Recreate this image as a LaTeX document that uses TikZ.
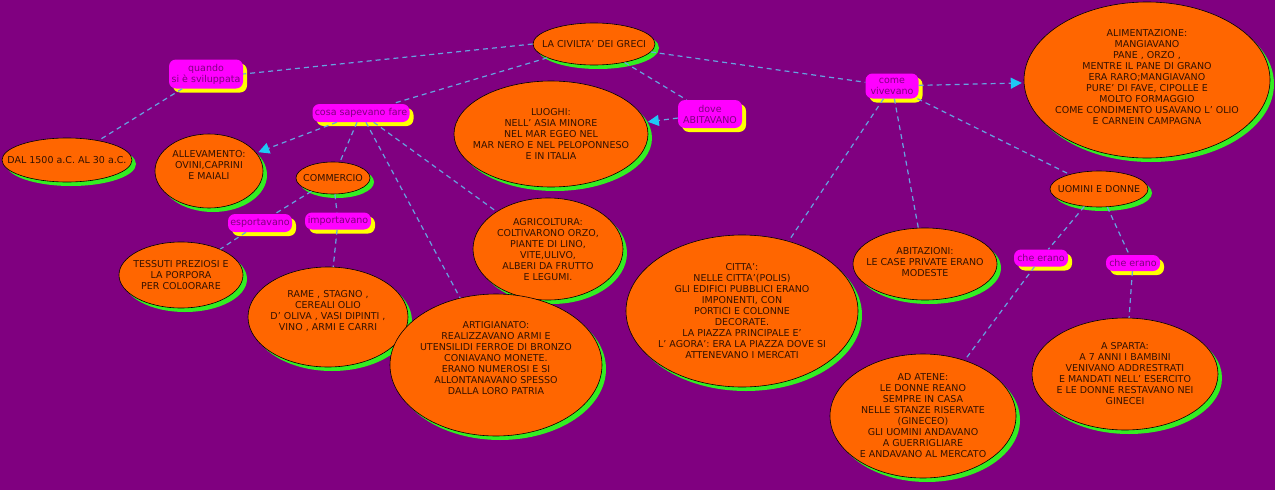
\documentclass[tikz,border=0pt]{standalone}
\usepackage{fontspec}
\setmainfont{DejaVu Sans}
\usetikzlibrary{shapes.geometric,shadows,arrows.meta}
\definecolor{bg}{HTML}{800080}
\definecolor{orng}{HTML}{FF6600}
\definecolor{grn}{HTML}{33EE22}
\definecolor{mag}{HTML}{FF00FF}
\definecolor{yel}{HTML}{FFFF00}
\definecolor{lnk}{HTML}{66A3E0}
\definecolor{cyn}{HTML}{1EC8F5}
\definecolor{txt}{HTML}{331100}
\tikzset{
  oval/.style={ellipse, draw=black, line width=0.6pt, fill=orng, inner sep=0pt,
    drop shadow={shadow xshift=4pt, shadow yshift=-4pt, fill=grn, opacity=1}},
  ovtext/.style={align=center, text=txt, inner sep=0pt, font=\fontsize{9.5}{11}\selectfont},
  lab/.style={rounded corners=7pt, fill=mag, text=bg, align=center, inner sep=1pt,
    font=\fontsize{9.5}{11}\selectfont,
    drop shadow={shadow xshift=4pt, shadow yshift=-4pt, fill=yel, opacity=1}},
  conn/.style={draw=lnk, dash pattern=on 5pt off 4pt, line width=1.2pt},
  arr/.style={conn, -{Triangle[length=11pt,width=11pt,color=cyn]}, shorten >=2pt}
}
\begin{document}
\begin{tikzpicture}[x=1pt,y=-1pt]
\fill[bg] (0,0) rectangle (1275,490);
\useasboundingbox (0,0) rectangle (1275,490);

% ellipses
\node[oval, minimum width=122pt, minimum height=42pt] (greci) at (594,44) {};
\node[ovtext] (greci-t) at (greci) {LA CIVILTA' DEI GRECI};
\node[oval, minimum width=194pt, minimum height=106pt] (luoghi) at (551,134) {};
\node[ovtext] (luoghi-t) at (luoghi) {LUOGHI:\\NELL' ASIA MINORE\\NEL MAR EGEO NEL\\MAR NERO E NEL PELOPONNESO\\E IN ITALIA};
\node[oval, minimum width=246pt, minimum height=156pt] (alim) at (1147,80) {};
\node[ovtext] (alim-t) at (1147,77) {ALIMENTAZIONE:\\MANGIAVANO\\PANE , ORZO ,\\MENTRE IL PANE DI GRANO\\ERA RARO;MANGIAVANO\\PURE' DI FAVE, CIPOLLE E\\MOLTO FORMAGGIO\\COME CONDIMENTO USAVANO L' OLIO\\E CARNEIN CAMPAGNA};
\node[oval, minimum width=98pt, minimum height=36pt] (uomini) at (1099,189) {};
\node[ovtext] (uomini-t) at (uomini) {UOMINI E DONNE};
\node[oval, minimum width=144pt, minimum height=72pt] (abit) at (925,264) {};
\node[ovtext] (abit-t) at (925,262) {ABITAZIONI:\\LE CASE PRIVATE ERANO\\MODESTE};
\node[oval, minimum width=232pt, minimum height=152pt] (citta) at (742,311) {};
\node[ovtext] (citta-t) at (citta) {CITTA':\\NELLE CITTA'(POLIS)\\GLI EDIFICI PUBBLICI ERANO\\IMPONENTI, CON\\PORTICI E COLONNE\\DECORATE.\\LA PIAZZA PRINCIPALE E'\\L' AGORA': ERA LA PIAZZA DOVE SI\\ATTENEVANO I MERCATI};
\node[oval, minimum width=186pt, minimum height=124pt] (atene) at (923,416) {};
\node[ovtext] (atene-t) at (923,416) {AD ATENE:\\LE DONNE REANO\\SEMPRE IN CASA\\NELLE STANZE RISERVATE\\(GINECEO)\\GLI UOMINI ANDAVANO\\A GUERRIGLIARE\\E ANDAVANO AL MERCATO};
\node[oval, minimum width=186pt, minimum height=112pt] (sparta) at (1125,374) {};
\node[ovtext] (sparta-t) at (1125,374) {A SPARTA:\\A 7 ANNI I BAMBINI\\VENIVANO ADDRESTRATI\\E MANDATI NELL' ESERCITO\\E LE DONNE RESTAVANO NEI\\GINECEI};
\node[oval, minimum width=130pt, minimum height=44pt] (dal) at (67,160) {};
\node[ovtext] (dal-t) at (dal) {DAL 1500 a.C. AL 30 a.C.};
\node[oval, minimum width=108pt, minimum height=74pt] (allev) at (209,171) {};
\node[ovtext] (allev-t) at (209,165) {ALLEVAMENTO:\\OVINI,CAPRINI\\E MAIALI};
\node[oval, minimum width=74pt, minimum height=32pt] (comm) at (333,178) {};
\node[ovtext] (comm-t) at (comm) {COMMERCIO};
\node[oval, minimum width=124pt, minimum height=66pt] (tess) at (181,275) {};
\node[ovtext] (tess-t) at (181,275) {TESSUTI PREZIOSI E\\LA PORPORA\\PER COL0ORARE};
\node[oval, minimum width=160pt, minimum height=100pt] (rame) at (328,317) {};
\node[ovtext] (rame-t) at (328,311) {RAME , STAGNO ,\\CEREALI OLIO\\D' OLIVA , VASI DIPINTI ,\\VINO , ARMI E CARRI};
\node[oval, minimum width=150pt, minimum height=102pt] (agri) at (548,249) {};
\node[ovtext] (agri-t) at (548,250) {AGRICOLTURA:\\COLTIVARONO ORZO,\\PIANTE DI LINO,\\VITE,ULIVO,\\ALBERI DA FRUTTO\\E LEGUMI.};
\node[oval, minimum width=212pt, minimum height=142pt] (artig) at (496,365) {};
\node[ovtext] (artig-t) at (496,358) {ARTIGIANATO:\\REALIZZAVANO ARMI E\\UTENSILIDI FERROE DI BRONZO\\CONIAVANO MONETE.\\ERANO NUMEROSI E SI\\ALLONTANAVANO SPESSO\\DALLA LORO PATRIA};

% labels
\node[lab, minimum width=74pt, minimum height=29pt] (quando) at (206,74) {quando\\si è sviluppata};
\node[lab, minimum width=97pt, minimum height=18pt] (cosa) at (361,113) {cosa sapevano fare};
\node[lab, minimum width=64pt, minimum height=18pt] (esp) at (260,223) {esportavano};
\node[lab, minimum width=66pt, minimum height=17pt] (imp) at (338,221) {importavano};
\node[lab, minimum width=64pt, minimum height=28pt] (dove) at (710,114) {dove\\ABITAVANO};
\node[lab, minimum width=53pt, minimum height=25pt] (come) at (892,86) {come\\vivevano};
\node[lab, minimum width=54pt, minimum height=17pt] (che1) at (1041,258) {che erano};
\node[lab, minimum width=54pt, minimum height=16pt] (che2) at (1133,263) {che erano};

% connectors
\draw[conn] (greci.west) -- (quando.east);
\draw[conn] (quando) -- (dal);
\draw[conn] (greci) -- (cosa);
\draw[arr] (cosa) -- (allev);
\draw[conn] (cosa) -- (comm);
\draw[conn] (cosa) -- (agri);
\draw[conn] (cosa) -- (artig);
\draw[conn] (comm) -- (esp);
\draw[conn] (esp) -- (tess);
\draw[conn] (comm) -- (imp);
\draw[conn] (imp) -- (rame);
\draw[conn] (greci) -- (dove);
\draw[arr] (dove) -- (luoghi);
\draw[conn] (greci) -- (come);
\draw[arr] (come) -- (alim);
\draw[conn] (come) -- (uomini);
\draw[conn] (come) -- (abit);
\draw[conn] (come) -- (citta);
\draw[conn] (uomini) -- (che1);
\draw[conn] (che1) -- (atene);
\draw[conn] (uomini) -- (che2);
\draw[conn] (che2) -- (sparta);
\end{tikzpicture}
\end{document}
